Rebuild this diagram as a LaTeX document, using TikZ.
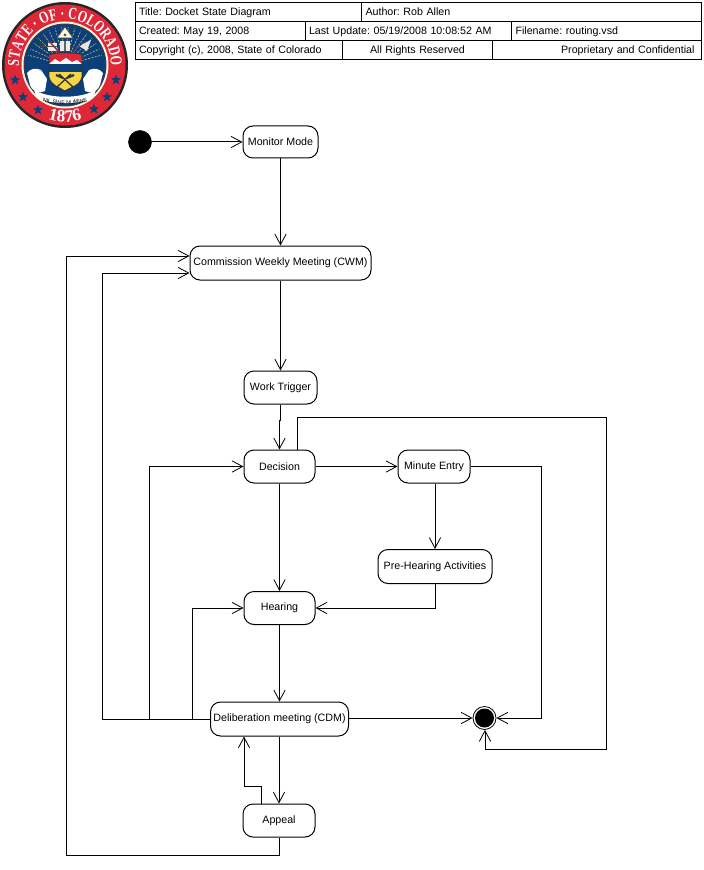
\documentclass[tikz,border=0pt]{standalone}
\usepackage{fontspec}
\setmainfont{Liberation Sans}
\newfontfamily\sealserif{Liberation Serif}[FakeStretch=0.72]
\newfontfamily\numserif{Liberation Serif}
\usetikzlibrary{arrows.meta,decorations.text,shapes.geometric}
\definecolor{sealred}{RGB}{222,40,56}
\definecolor{sealblue}{RGB}{12,62,122}
\definecolor{sealgold}{RGB}{246,214,70}
\definecolor{sealray}{RGB}{190,190,110}
\tikzset{
  statebox/.style={draw=black,line width=.75pt,rounded corners=7.5pt,fill=white,inner sep=0pt,align=center,font=\fontsize{8}{10}\selectfont},
  cell/.style={draw=black,line width=.75pt,inner ysep=0pt,inner xsep=3pt,anchor=north west,minimum height=14.25pt,font=\fontsize{8}{10}\selectfont},
  flow/.style={draw=black,line width=.75pt,-{Straight Barb[length=8pt,width=8.5pt,line width=.6pt]}},
  star5/.style={star,star points=5,star point ratio=2.4,fill=sealblue,inner sep=0pt,minimum size=8pt},
}
\newcommand{\cellat}[6]{\node[cell,text width=#4*.75pt-6pt,align=#5] (#1) at (#2,#3) {\strut\frenchspacing #6};}
\newcommand{\statenode}[6]{\node[statebox,minimum width=#4*.75pt,minimum height=#5*.75pt] (#1) at (#2,#3) {#6};}
\begin{document}
\begin{tikzpicture}[x=.75pt,y=-.75pt]
\useasboundingbox (0,0) rectangle (703,870);
\fill[white] (0,0) rectangle (703,870);
% ---- seal
\begin{scope}[shift={(65,65)},x=.75pt,y=.75pt]
  \fill[black!85] (0,0) circle (63);
  \fill[sealred] (0,0) circle (60.5);
  \fill[white!85!sealgold] (0,0) circle (43.5);
  \fill[black!75] (0,0) circle (41.5);
  \fill[sealblue] (0,0) circle (40.5);
  \foreach \a in {15,25,...,165}
    \draw[sealray,line width=.5pt,dash pattern=on 1.5pt off 1pt] (\a:14) -- (\a:38);
  \fill[white!80!sealgold] (-8,27) -- (0,38) -- (8,27) -- cycle;
  \draw[black!70,line width=.4pt] (-8,27) -- (0,38) -- (8,27) -- cycle;
  \fill[black!70] (0,30) circle (1.5);
  % helmet and tools
  \fill[white!85!gray] (-5,14) rectangle (5,24);
  \fill[black!60] (-1,14) rectangle (1,24);
  \fill[white!85!gray] (-17,14) rectangle (-8,22);
  \draw[sealred!80!black,line width=1.1pt] (-16,24) -- (-6,13);
  \draw[black!70,line width=.7pt] (-24,19) -- (-8,19);
  \fill[white!80!gray] (14,19) -- (26,25) -- (22,14) -- cycle;
  \draw[black!70,line width=.7pt] (8,13) -- (20,24);
  % mantling
  \fill[white] (-38,-8) .. controls (-34,-3) and (-29,-3) .. (-24,-5) -- (-18,-14) -- (-20,-26) .. controls (-26,-29) and (-32,-27) .. (-35,-20) -- cycle;
  \fill[white] (38,-8) .. controls (34,-3) and (29,-3) .. (24,-5) -- (18,-14) -- (20,-26) .. controls (26,-29) and (32,-27) .. (35,-20) -- cycle;
  % shield
  \begin{scope}
    \clip (-16,10) .. controls (-12,13) and (14,13) .. (17,10) -- (17,-12) .. controls (15,-21) and (6,-22) .. (0,-26) .. controls (-6,-22) and (-14,-21) .. (-16,-12) -- cycle;
    \fill[sealred] (-18,0) rectangle (18,14);
    \fill[white] (-16,1) -- (-10,6) -- (-5,3) -- (1,7) -- (7,3) -- (12,5) -- (17,1) -- cycle;
    \fill[sealblue] (-18,-7) rectangle (18,1);
    \fill[sealgold] (-18,-30) rectangle (18,-7);
    \draw[black!80,line width=1pt] (-8,-22) -- (6,-9);
    \draw[black!80,line width=1pt] (8,-22) -- (-6,-9);
    \draw[black!80,line width=1.6pt] (-9,-10) -- (-2,-13);
    \draw[black!80,line width=1.6pt] (9,-10) -- (2,-13);
  \end{scope}
  \draw[black!80,line width=.7pt] (-16,10) .. controls (-12,13) and (14,13) .. (17,10) -- (17,-12) .. controls (15,-21) and (6,-22) .. (0,-26) .. controls (-6,-22) and (-14,-21) .. (-16,-12) -- cycle;
  % banner
  \fill[white] (-31,-25) .. controls (-15,-34) and (15,-34) .. (31,-25) -- (28,-33) .. controls (12,-40) and (-12,-40) .. (-28,-33) -- cycle;
  \path[decorate,decoration={text along path,text align=center,raise=-.8pt,
     text={|\fontsize{4}{4}\selectfont\color{black}|NIL SINE NUMINE}}]
     (-29,-33) .. controls (-12,-40) and (12,-40) .. (29,-33);
  % motto arcs
  \path[decorate,decoration={text along path,text align=center,
     text={|\sealserif\bfseries\fontsize{12.5}{12.5}\selectfont\color{white}|STATE · OF · COLORADO}}]
     (190:46) arc[start angle=190,end angle=-10,radius=46];
  \path[decorate,decoration={text along path,text align=center,
     text={|\numserif\bfseries\fontsize{13}{13}\selectfont\color{white}|1876}}]
     (230:57) arc[start angle=230,end angle=310,radius=57];
  \foreach \p in {(-50,-15),(-42,-32),(-27,-45),(29,-44),(42,-32),(51,-15)}
    \node[star5] at \p {};
\end{scope}
% ---- title block
\cellat{c1}{134.5}{2.5}{226.5}{left}{Title: Docket State Diagram}
\cellat{c2}{361}{2.5}{340}{left}{Author: Rob Allen}
\cellat{c3}{134.5}{21.5}{170.5}{left}{Created: May 19, 2008}
\cellat{c4}{304.5}{21.5}{206.5}{left}{Last Update: 05/19/2008 10:08:52 AM}
\cellat{c5}{511}{21.5}{190}{left}{Filename: routing.vsd}
\cellat{c6}{134.5}{40.5}{207.5}{left}{Copyright (c), 2008, State of Colorado}
\cellat{c7}{342}{40.5}{150}{center}{All Rights Reserved}
\cellat{c8}{492}{40.5}{209}{right}{Proprietary and Confidential\kern2.25pt}
% ---- states
\node[circle,fill=black,draw=black,inner sep=0pt,minimum size=23*.75pt] (start) at (140,142) {};
\statenode{monitor}{280.5}{142}{75}{32}{Monitor Mode}
\statenode{cwm}{280.5}{263}{181}{34}{Commission Weekly Meeting (CWM)}
\statenode{trigger}{280.5}{387.5}{73}{33}{Work Trigger}
\statenode{decision}{279.5}{466.5}{71}{33}{Decision}
\statenode{minute}{434}{466.5}{72}{33}{Minute Entry}
\statenode{prehear}{435}{566.5}{114}{34}{Pre-Hearing Activities}
\statenode{hearing}{279.5}{608}{71}{33}{Hearing}
\statenode{cdm}{279.5}{719}{138}{34}{Deliberation meeting (CDM)}
\statenode{appeal}{279}{820.5}{72}{33}{Appeal}
\node[circle,draw=black,line width=.6pt,fill=white,inner sep=0pt,minimum size=23*.75pt] (endo) at (484.5,718) {};
\node[circle,fill=black,inner sep=0pt,minimum size=19*.75pt] (endi) at (484.5,718) {};
% ---- route points
\coordinate (a1) at (297,417);
\coordinate (a2) at (606,417);
\coordinate (a3) at (606,749);
\coordinate (a4) at (485,749);
\coordinate (b1) at (541,466.5);
\coordinate (b2) at (541,718);
\coordinate (d1) at (102.5,719);
\coordinate (d2) at (102.5,273);
\coordinate (e1) at (149,719);
\coordinate (e2) at (149,466.5);
\coordinate (f1) at (192,719);
\coordinate (f2) at (192,608);
\coordinate (g1) at (261,786);
\coordinate (g2) at (244,786);
\coordinate (h1) at (279,855);
\coordinate (h2) at (66.5,855);
\coordinate (h3) at (66.5,256);
\coordinate (j1) at (280,420);
\coordinate (j2) at (279.5,420);
\coordinate (k1) at (435,608);
% ---- connectors
\draw[flow] (start) -- (monitor);
\draw[flow] (monitor) -- (cwm);
\draw[flow] (cwm) -- (trigger);
\draw[flow] (trigger.south -| j1) -- (j1) -- (j2) -- (decision.north -| j2);
\draw[flow] (decision) -- (minute);
\draw[flow] (decision.north -| a1) -- (a1) -- (a2) -- (a3) -- (a4) -- (endo.south -| a4);
\draw[flow] (minute.east |- b1) -- (b1) -- (b2) -- (endo.east |- b2);
\draw[flow] (minute.south -| k1) -- (prehear.north -| k1);
\draw[flow] (prehear.south -| k1) -- (k1) -- (hearing.east |- k1);
\draw[flow] (decision) -- (hearing);
\draw[flow] (hearing) -- (cdm);
\draw[flow] (cdm.west) -- (d1) -- (d2) -- (cwm.west |- d2);
\draw[flow] (e1) -- (e2) -- (decision.west);
\draw[flow] (f1) -- (f2) -- (hearing.west);
\draw[flow] (cdm.east |- endo) -- (endo.west);
\draw[flow] (cdm.south -| appeal) -- (appeal.north);
\draw[flow] (appeal.north -| g1) -- (g1) -- (g2) -- (cdm.south -| g2);
\draw[flow] (appeal.south) -- (h1) -- (h2) -- (h3) -- (cwm.west |- h3);
\end{tikzpicture}
\end{document}
